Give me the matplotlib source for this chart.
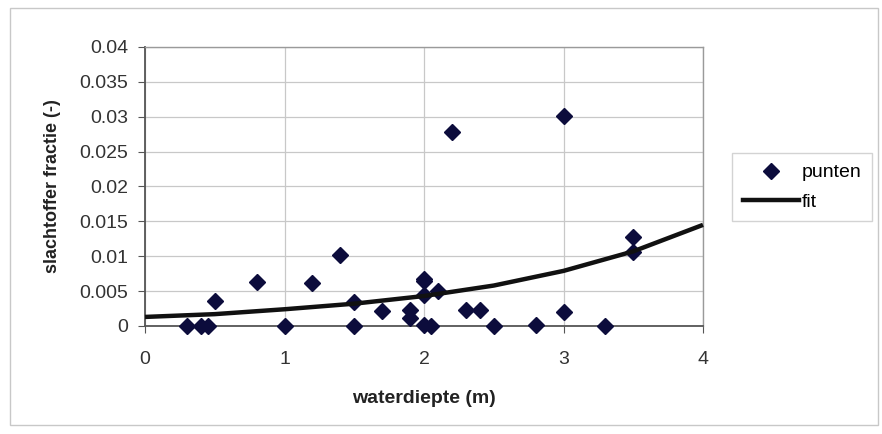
import matplotlib
matplotlib.use("Agg")
import matplotlib.pyplot as plt
from matplotlib.patches import Rectangle
from matplotlib.lines import Line2D

# data
depth = [0.3, 0.4, 0.45, 0.5, 0.8, 1.0, 1.2, 1.4, 1.5, 1.5, 1.7, 1.9, 1.9,
         2.0, 2.0, 2.0, 2.0, 2.05, 2.1, 2.2, 2.3, 2.4, 2.5, 2.8, 3.0, 3.0,
         3.3, 3.5, 3.5]
fraction = [0.0, 0.0, 0.0, 0.0036, 0.0063, 0.0, 0.0061, 0.0102, 0.0035, 0.0,
            0.0021, 0.0023, 0.0011, 0.0068, 0.0064, 0.0045, 0.0002, 0.0, 0.0050,
            0.0278, 0.0023, 0.0023, 0.0, 0.0002, 0.0301, 0.0020, 0.0, 0.0127, 0.0106]
fit_x = [0.0, 0.5, 1.0, 1.5, 2.0, 2.5, 3.0, 3.5, 4.0]
fit_y = [0.0013, 0.0017, 0.0024, 0.0032, 0.0043, 0.0058, 0.0079, 0.0107, 0.0145]
xticks = [0, 1, 2, 3, 4]
yticks = [0, 0.005, 0.01, 0.015, 0.02, 0.025, 0.03, 0.035, 0.04]
ytick_labels = ["0", "0.005", "0.01", "0.015", "0.02", "0.025", "0.03", "0.035", "0.04"]

plt.rcParams['font.family'] = ['Liberation Sans', 'DejaVu Sans']

fig = plt.figure(figsize=(8.82, 4.34), dpi=100)
fig.patch.set_facecolor("white")
fig.add_artist(Rectangle((10/882, 1-425/434), 868/882, 417/434, transform=fig.transFigure,
                         fill=False, edgecolor="#c8c8c8", linewidth=1.0))

ax = fig.add_axes([145/882, 1-326/434, 558/882, 279/434])
ax.set_xlim(0, 4)
ax.set_ylim(0, 0.04)
ax.set_xticks(xticks)
ax.set_yticks(yticks)
ax.set_yticklabels(ytick_labels)
ax.grid(True, color="#c8c8c8", linewidth=0.9)
ax.set_axisbelow(True)
for s in ["top", "right"]:
    ax.spines[s].set_color("#9a9a9a")
    ax.spines[s].set_linewidth(1.0)
for s in ["left", "bottom"]:
    ax.spines[s].set_color("#555555")
    ax.spines[s].set_linewidth(1.3)
ax.tick_params(axis="both", direction="out", length=5, color="#555555",
               labelsize=14, labelcolor="#333333")
ax.tick_params(axis="x", pad=13)
ax.tick_params(axis="y", pad=7)

ax.plot(depth, fraction, linestyle="none", marker="D", markersize=8.5,
        color="#0c0c3c", zorder=3, clip_on=False)
ax.plot(fit_x, fit_y, color="#111111", linewidth=3.2, zorder=4, clip_on=False,
        solid_capstyle="butt")

ax.set_xlabel("waterdiepte (m)", fontsize=14, fontweight="bold", labelpad=16, color="#222222")
ax.set_ylabel("slachtoffer fractie (-)", fontsize=13, fontweight="bold", labelpad=13, color="#222222")

handles = [Line2D([], [], linestyle="none", marker="D", markersize=8.5, color="#0c0c3c"),
           Line2D([], [], color="#111111", linewidth=3.2)]
leg = fig.legend(handles, ["punten", "fit"], loc="upper left",
                 bbox_to_anchor=(732/882, 1-153/434), bbox_transform=fig.transFigure,
                 borderaxespad=0, frameon=True, fancybox=False, fontsize=14,
                 handlelength=2.9, handletextpad=0.15, borderpad=0.55, labelspacing=0.6)
leg.get_frame().set_edgecolor("#c8c8c8")
leg.get_frame().set_linewidth(1.0)

fig.savefig("out.png", dpi=100, facecolor="white")
